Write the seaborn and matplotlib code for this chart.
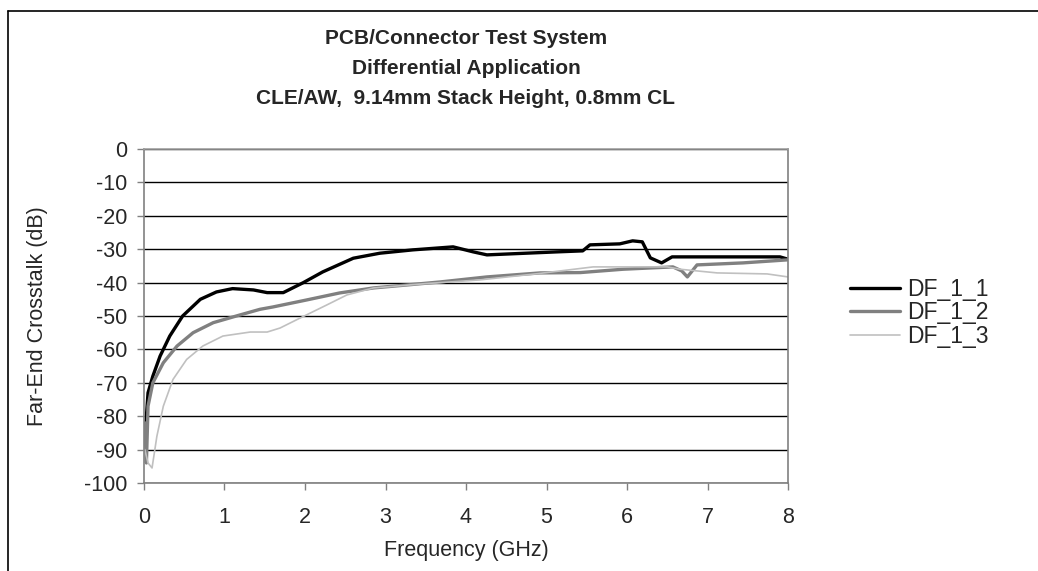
import matplotlib
matplotlib.use("Agg")
import matplotlib.pyplot as plt
import seaborn as sns
import pandas as pd
from matplotlib.lines import Line2D

# ---- data ----
f_df11 = [0.01, 0.03, 0.05, 0.11, 0.2, 0.32, 0.48, 0.7, 0.9, 1.1, 1.36, 1.53, 1.73, 1.98,
          2.22, 2.6, 2.93, 3.34, 3.84, 4.09, 4.26, 4.55, 5.13, 5.45, 5.54, 5.91, 6.07,
          6.19, 6.29, 6.43, 6.56, 7.9, 8.0]
y_df11 = [-86, -80, -73, -68, -62, -56, -50, -45, -42.8, -41.8, -42.2, -43, -43, -40,
          -36.8, -32.7, -31.2, -30.2, -29.3, -30.8, -31.7, -31.4, -30.8, -30.5, -28.7,
          -28.4, -27.5, -27.8, -32.6, -34.1, -32.3, -32.3, -33]

f_df12 = [0.01, 0.03, 0.05, 0.11, 0.24, 0.41, 0.61, 0.86, 1.19, 1.44, 1.6, 2.02, 2.43,
          2.85, 3.27, 3.68, 4.26, 4.92, 5.42, 5.95, 6.57, 6.68, 6.75, 6.82, 6.87, 7.44,
          7.99]
y_df12 = [-82, -94, -77, -70, -64, -59, -55, -52, -49.7, -48, -47.3, -45.2, -43.1,
          -41.6, -40.7, -39.8, -38.3, -37.1, -37.0, -36, -35.3, -36.5, -38.3, -36.2,
          -34.7, -34.1, -33.2]

f_df13 = [0.01, 0.05, 0.1, 0.16, 0.24, 0.36, 0.53, 0.73, 0.98, 1.32, 1.53, 1.69, 1.94,
          2.27, 2.52, 2.85, 3.5, 4.17, 4.9, 5.58, 6.5, 6.66, 7.12, 7.74, 8.0]
y_df13 = [-90, -94, -95.5, -86, -77, -69, -63, -59, -56, -54.8, -54.8, -53.6, -50.6,
          -46.7, -43.7, -41.6, -40.3, -39.2, -37.3, -35.3, -35.3, -36, -37.1, -37.4, -38.3]

series_names = ["DF_1_1", "DF_1_2", "DF_1_3"]
x_ticks = [0, 1, 2, 3, 4, 5, 6, 7, 8]
y_ticks = [0, -10, -20, -30, -40, -50, -60, -70, -80, -90, -100]
title_lines = ["PCB/Connector Test System", "Differential Application",
               "CLE/AW,  9.14mm Stack Height, 0.8mm CL"]

df = pd.concat([
    pd.DataFrame({"Frequency": f_df11, "dB": y_df11, "Series": series_names[0]}),
    pd.DataFrame({"Frequency": f_df12, "dB": y_df12, "Series": series_names[1]}),
    pd.DataFrame({"Frequency": f_df13, "dB": y_df13, "Series": series_names[2]}),
], ignore_index=True)

sns.set_style("white")
plt.rcParams["font.family"] = ["Liberation Sans", "DejaVu Sans"]

fig = plt.figure(figsize=(10.38, 5.71), dpi=100)
ax = fig.add_axes([144 / 1038, 1 - 483 / 571, (788 - 144) / 1038, (483 - 149) / 571])

palette = {"DF_1_1": "#000000", "DF_1_2": "#808080", "DF_1_3": "#c0c0c0"}
sns.lineplot(data=df, x="Frequency", y="dB", hue="Series", palette=palette,
             sort=False, estimator=None, ax=ax, legend=False)
widths = [2.4, 2.4, 1.2]
for line, w in zip(ax.get_lines(), widths):
    line.set_linewidth(w)

ax.set_xlim(0, 8)
ax.set_ylim(-100, 0)
ax.set_xticks(x_ticks)
ax.set_yticks(y_ticks)
ax.set_xticklabels([str(t) for t in x_ticks])
ax.set_yticklabels([str(t) for t in y_ticks])
ax.yaxis.grid(True, color="black", linewidth=1.0)
ax.xaxis.grid(False)
ax.set_axisbelow(True)
ax.tick_params(axis="both", direction="out", length=5, width=1, color="#808080",
               labelsize=15.5, left=True, bottom=True)
ax.tick_params(axis="x", pad=12)
ax.tick_params(axis="y", pad=7)
for s in ["left", "bottom", "right", "top"]:
    ax.spines[s].set_color("#808080")
    ax.spines[s].set_linewidth(1.2)
ax.spines["top"].set_color("#a0a0a0")

ax.set_xlabel("Frequency (GHz)", fontsize=15.5, labelpad=9)
ax.set_ylabel("Far-End Crosstalk (dB)", fontsize=15.5, labelpad=26)

handles = [Line2D([0], [0], color=palette[n], lw=w) for n, w in zip(series_names, widths)]
fig.legend(handles, series_names, loc="center left", bbox_to_anchor=(850 / 1038, 1 - 313 / 571),
           frameon=False, fontsize=16.5, handlelength=2.2, handletextpad=0.3,
           labelspacing=0.02, borderaxespad=0, borderpad=0)

for yc, line_text in zip([39, 69, 98], title_lines):
    fig.text(466 / 1038, 1 - yc / 571, line_text, ha="center", va="center", fontsize=15,
             fontweight="bold")

# figure frame (left and top edges visible)
fig.add_artist(Line2D([8 / 1038, 8 / 1038], [0, 1 - 11 / 571], color="black", lw=1.2,
                      transform=fig.transFigure))
fig.add_artist(Line2D([8 / 1038, 1], [1 - 11 / 571, 1 - 11 / 571], color="black", lw=1.2,
                      transform=fig.transFigure))

fig.savefig("out.png", dpi=100)
